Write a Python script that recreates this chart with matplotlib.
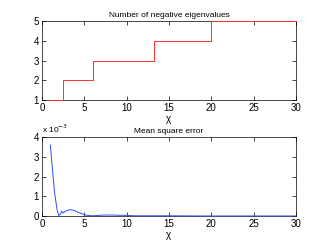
import matplotlib
matplotlib.use("Agg")
import matplotlib.pyplot as plt

# step data: number of negative eigenvalues vs chi
chi_steps = [1, 2.5, 6, 13.2, 20, 30]
n_neg = [1, 2, 3, 4, 5, 5]

# mean square error (units of 1e-3)
chi_mse = [1, 1.2, 1.5, 1.8, 2.0, 2.2, 2.35, 2.5, 2.8, 3.3, 3.8, 4.5, 5.2, 6, 7, 8, 9, 10, 11, 15, 20, 30]
mse = [3.6, 2.6, 1.2, 0.3, 0.02, 0.1, 0.25, 0.15, 0.25, 0.32, 0.28, 0.15, 0.04, 0.01, 0.04, 0.05, 0.04, 0.03, 0.01, 0.01, 0.0, 0.0]

plt.rcParams['font.family'] = ['Liberation Sans', 'DejaVu Sans']
plt.rcParams['font.size'] = 7

fig = plt.figure(figsize=(3.27, 2.46), dpi=100)
ax1 = fig.add_axes([0.128, 0.593, 0.777, 0.321])
ax2 = fig.add_axes([0.128, 0.122, 0.777, 0.321])

ax1.step(chi_steps, n_neg, where='post', color='#ff3030', lw=0.7, zorder=5, clip_on=False)
ax1.set_xlim(0, 30)
ax1.set_ylim(1, 5)
ax1.set_yticks([1, 2, 3, 4, 5])
ax1.set_title("Number of negative eigenvalues", fontsize=6, pad=3)
ax1.set_xlabel("χ", labelpad=1)

ax2.plot(chi_mse, [v * 1e-3 for v in mse], color='#3050ff', lw=0.7, zorder=5, clip_on=False)
ax2.set_xlim(0, 30)
ax2.set_ylim(0, 4e-3)
ax2.set_yticks([0, 1e-3, 2e-3, 3e-3, 4e-3])
ax2.set_yticklabels(['0', '1', '2', '3', '4'])
ax2.set_title("Mean square error", fontsize=6, pad=3)
ax2.set_xlabel("χ", labelpad=1)
ax2.text(0.0, 1.02, r"x 10$^{-3}$", transform=ax2.transAxes, fontsize=6, va='bottom', ha='left')

for ax in (ax1, ax2):
    ax.set_xticks([0, 5, 10, 15, 20, 25, 30])
    ax.tick_params(direction='in', top=True, right=True, length=3, width=0.5, pad=2, labelsize=7)
    for s in ax.spines.values():
        s.set_linewidth(0.5)

fig.savefig("out.png", dpi=100)
